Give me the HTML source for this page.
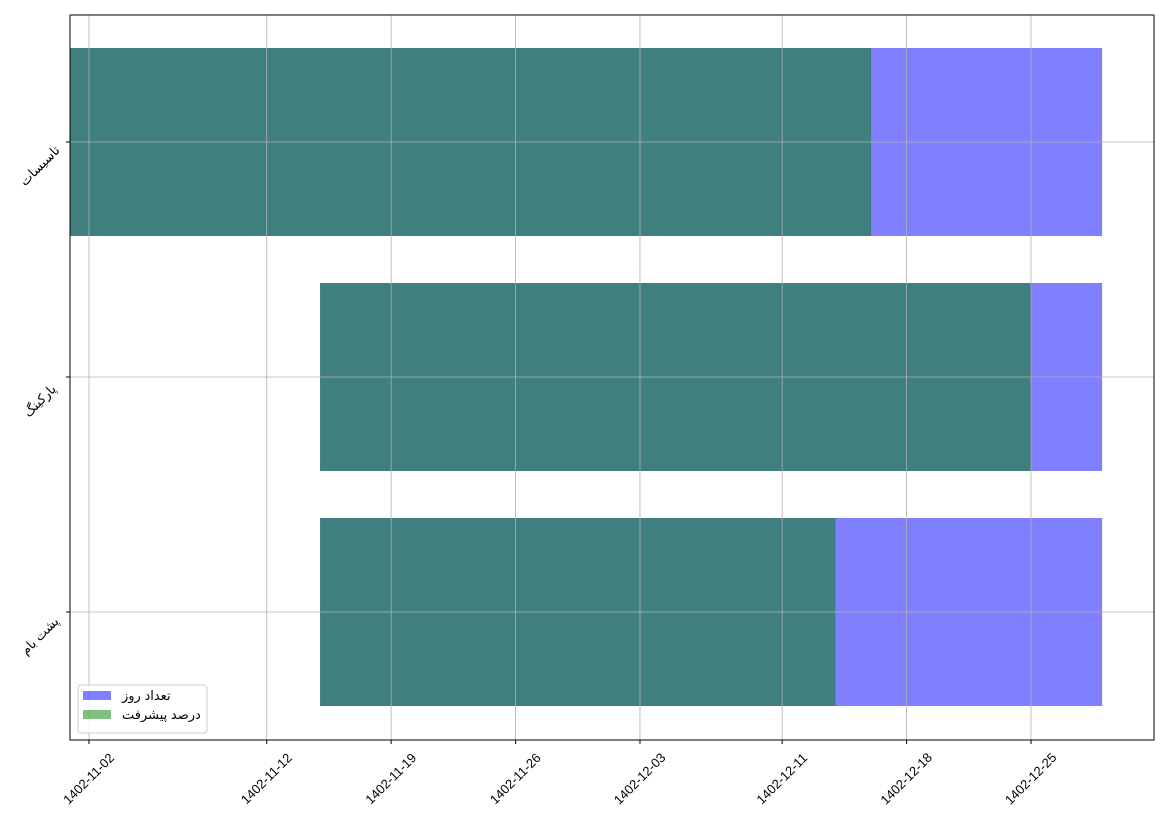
<!DOCTYPE html>
<html><head><meta charset="utf-8"><style>
body{margin:0;background:#fff}
svg text{font-family:"Liberation Sans","DejaVu Sans",sans-serif;font-size:13px;fill:#000}
</style></head><body>
<svg id="chart" width="1169" height="827" xmlns="http://www.w3.org/2000/svg"></svg>
<script>
const categories = ["تاسیسات", "پارکینگ", "پشت بام"];
const startDays = [-1.07, 13, 13];
const totalDays = [58.07, 44, 44];
const progressDays = [45.07, 40, 29];
const tickDays = [0, 10, 17, 24, 31, 39, 46, 53];
const tickLabels = ["1402-11-02","1402-11-12","1402-11-19","1402-11-26","1402-12-03","1402-12-11","1402-12-18","1402-12-25"];
const legendLabels = ["تعداد روز", "درصد پیشرفت"];

const NS = "http://www.w3.org/2000/svg";
const svg = document.getElementById('chart');
const L=70,R=1154,T=15,B=740;
const x = d => 89 + d*(1031-89)/53;
const y = i => 142 + i*235;
const bh = 188;
function mk(tag, attrs, parent){const e=document.createElementNS(NS,tag);for(const k in attrs)e.setAttribute(k,attrs[k]);(parent||svg).appendChild(e);return e;}

// bars
categories.forEach((c,i)=>{
  const b=mk('rect',{x:x(startDays[i]),y:y(i)-bh/2,width:x(startDays[i]+totalDays[i])-x(startDays[i]),height:bh,fill:'rgb(0,0,255)','fill-opacity':0.5});
  
  
  const g=mk('rect',{x:x(startDays[i]),y:y(i)-bh/2,width:x(startDays[i]+progressDays[i])-x(startDays[i]),height:bh,fill:'rgb(0,128,0)','fill-opacity':0.5});
  
  
});
// grid (on top)
tickDays.forEach((d,i)=>{
  const g=mk('line',{x1:x(d),x2:x(d),y1:T,y2:B,stroke:'#b0b0b0','stroke-width':0.8});
  
  
});
categories.forEach((c,i)=>{
  const g=mk('line',{x1:L,x2:R,y1:y(i),y2:y(i),stroke:'#b0b0b0','stroke-width':0.8});
  
  
});
// axes frame
const fr=mk('rect',{x:L,y:T,width:R-L,height:B-T,fill:'none',stroke:'#000','stroke-width':1});


// x ticks
tickDays.forEach((d,i)=>{
  mk('line',{x1:x(d),x2:x(d),y1:B,y2:B+4,stroke:'#000'});
  const cx=x(d), cy=B+39;
  const t=mk('text',{x:cx,y:cy+4,'text-anchor':'middle',transform:`rotate(-45 ${cx} ${cy})`});
  t.textContent=tickLabels[i];
  
  
});
// y ticks
categories.forEach((c,i)=>{
  mk('line',{x1:L-4,x2:L,y1:y(i),y2:y(i),stroke:'#000'});
  const cx=40, cy=y(i)+24;
  const t=mk('text',{x:cx,y:cy+4,'text-anchor':'middle',transform:`rotate(-45 ${cx} ${cy})`});
  t.textContent=c;
  
  
});
// legend
const lg=mk('g',{});


mk('rect',{x:78,y:685,width:129,height:48,fill:'#fff','fill-opacity':0.8,stroke:'#ccc',rx:3},lg);
const lc=['rgba(0,0,255,0.5)','rgba(0,128,0,0.5)'];
legendLabels.forEach((s,i)=>{
  const e=mk('g',{},lg);
  
  
  mk('rect',{x:83,y:691+i*19,width:28,height:9,fill:lc[i]},e);
  const t=mk('text',{x:122,y:700+i*19,'font-size':'12'},e);
  t.textContent=s;
});
</script>
</body></html>
